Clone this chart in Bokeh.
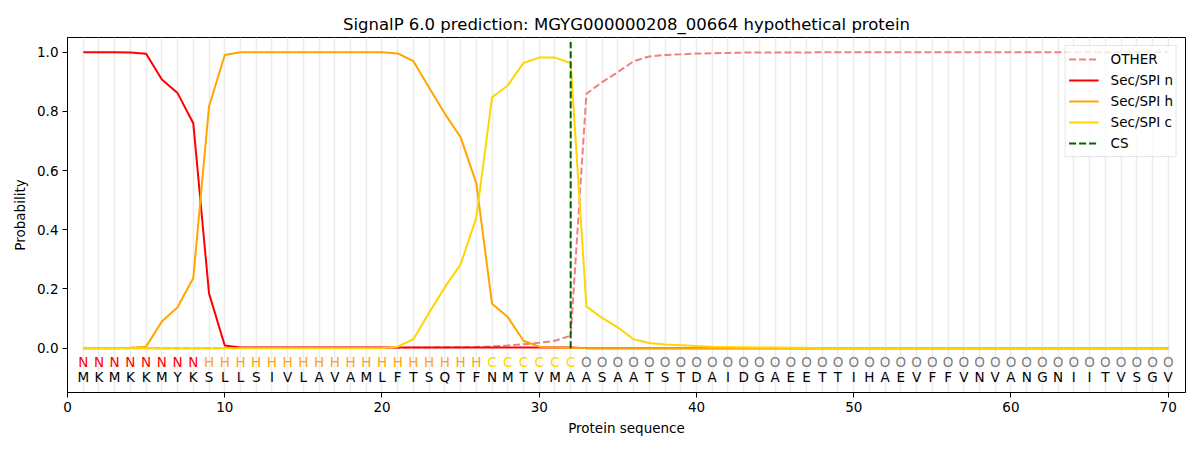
from bokeh.plotting import figure
from bokeh.models import Range1d, FixedTicker, ColumnDataSource, PrintfTickFormatter, Legend, LegendItem
from bokeh.core.properties import value
from bokeh.embed import file_html
from bokeh.resources import INLINE

sequence = list("MKMKKMYKSLLSIVLAVAMLFTSQTFNMTVMAASAATSTDAIDGAEETTIHAEVFFVNVANGNIITVSGV")
regions = list("NNNNNNNN" + "H" * 18 + "C" * 6 + "O" * 38)
positions = list(range(1, 71))

other = [0.0] * 10 + [0.001] * 10 + [0.001, 0.002, 0.002, 0.003, 0.003, 0.004, 0.006, 0.009,
         0.013, 0.018, 0.025, 0.042, 0.860, 0.899, 0.933, 0.970, 0.986, 0.991, 0.993, 0.9955,
         0.997, 0.998, 0.999] + [0.9995] * 4 + [1.0] * 23
sec_n = [1.0, 1.0, 1.0, 0.999, 0.995, 0.908, 0.862, 0.760, 0.185, 0.009] + [0.002] * 22 + [0.0] * 38
sec_h = [0.0, 0.0, 0.0, 0.001, 0.005, 0.09, 0.138, 0.237, 0.817, 0.991] + [1.0] * 10 + \
        [0.996, 0.97, 0.88, 0.792, 0.713, 0.557, 0.15, 0.105, 0.025, 0.005, 0.002, 0.001] + [0.0] * 38
sec_c = [0.0] * 20 + [0.005, 0.03, 0.12, 0.206, 0.283, 0.441, 0.848, 0.888, 0.964, 0.982, 0.982,
         0.964, 0.141, 0.102, 0.07, 0.03, 0.017, 0.012, 0.01, 0.007, 0.005, 0.004, 0.003, 0.002,
         0.002, 0.001, 0.001] + [0.0] * 23
cs_site = 32
cs_span = [0.0, 1.035]

region_colors = {"N": "red", "H": "orange", "C": "gold", "O": "gray"}
label_row_y = -0.046
residue_row_y = -0.097
x_ticks = [0, 10, 20, 30, 40, 50, 60, 70]
y_ticks = [0.0, 0.2, 0.4, 0.6, 0.8, 1.0]

FONT = "DejaVu Sans"

p = figure(frame_width=1118, frame_height=355, output_backend="svg", toolbar_location=None,
           x_range=Range1d(0, 71.1), y_range=Range1d(-0.15, 1.05),
           min_border_left=67, min_border_right=15, min_border_top=37, min_border_bottom=58,
           title="SignalP 6.0 prediction: MGYG000000208_00664 hypothetical protein")
p.title.align = "center"
p.title.text_font = FONT
p.title.text_font_size = "16.5px"
p.title.text_font_style = "normal"
p.title.text_color = "black"
p.title.standoff = 8

p.outline_line_color = "black"
p.outline_line_width = 1
p.background_fill_color = "white"
p.border_fill_color = "white"

p.ygrid.visible = False
p.xgrid.ticker = FixedTicker(ticks=positions)
p.xgrid.grid_line_color = "#ececec"
p.xgrid.grid_line_width = 1.6

p.xaxis.ticker = FixedTicker(ticks=x_ticks)
p.yaxis.ticker = FixedTicker(ticks=y_ticks)
p.yaxis.formatter = PrintfTickFormatter(format="%.1f")
for ax in (p.xaxis, p.yaxis):
    ax.major_label_text_font = FONT
    ax.major_label_text_font_size = "13.5px"
    ax.major_label_text_color = "black"
    ax.axis_label_text_font = FONT
    ax.axis_label_text_font_size = "13.5px"
    ax.axis_label_text_font_style = "normal"
    ax.axis_label_text_color = "black"
    ax.minor_tick_line_color = None
    ax.major_tick_in = 0
    ax.major_tick_out = 5
    ax.major_tick_line_color = "black"
    ax.axis_line_color = "black"
    ax.major_label_standoff = 4
p.xaxis.axis_label = "Protein sequence"
p.yaxis.axis_label = "Probability"
p.xaxis.axis_label_standoff = 5
p.yaxis.axis_label_standoff = 6

r_other = p.line(positions, other, line_color="#f08080", line_width=2, line_dash="7 3")
r_n = p.line(positions, sec_n, line_color="red", line_width=2)
r_h = p.line(positions, sec_h, line_color="orange", line_width=2)
r_c = p.line(positions, sec_c, line_color="gold", line_width=2)
r_cs = p.line([cs_site, cs_site], cs_span, line_color="darkgreen", line_width=2, line_dash="7 3")

src = ColumnDataSource(dict(
    x=positions,
    y1=[label_row_y] * len(positions),
    y2=[residue_row_y] * len(positions),
    lab=regions,
    res=sequence,
    col=[region_colors[r] for r in regions],
))
p.text(x="x", y="y1", text="lab", text_color="col", source=src, text_align="center",
       text_baseline="middle", text_font=value(FONT), text_font_size="13.5px")
p.text(x="x", y="y2", text="res", text_color="black", source=src, text_align="center",
       text_baseline="middle", text_font=value(FONT), text_font_size="13.5px")

legend = Legend(items=[
    LegendItem(label="OTHER", renderers=[r_other]),
    LegendItem(label="Sec/SPI n", renderers=[r_n]),
    LegendItem(label="Sec/SPI h", renderers=[r_h]),
    LegendItem(label="Sec/SPI c", renderers=[r_c]),
    LegendItem(label="CS", renderers=[r_cs]),
], location="top_right")
legend.label_text_font = FONT
legend.label_text_font_size = "13.5px"
legend.label_text_color = "black"
legend.glyph_width = 30
legend.glyph_height = 20
legend.label_height = 20
legend.label_standoff = 12
legend.spacing = 1
legend.padding = 3
legend.margin = 8
legend.border_line_color = "#cccccc"
legend.border_line_width = 1
legend.background_fill_alpha = 0.8
p.add_layout(legend)

open("out.html", "w").write(file_html(p, INLINE))
